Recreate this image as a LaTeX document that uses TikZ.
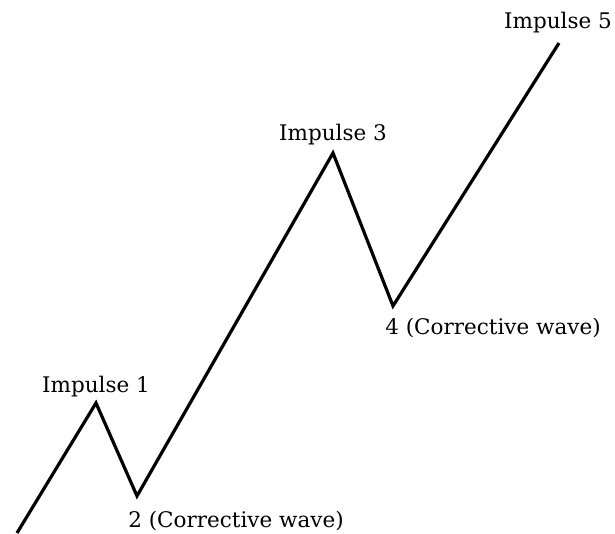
\documentclass[tikz,border=0pt]{standalone}
\usepackage{fontspec}
\setmainfont{DejaVu Serif}
\begin{document}
\begin{tikzpicture}[x=1pt,y=1pt,
  wave/.style={line width=3.2pt, line join=miter, black},
  lbl/.style={anchor=base, inner sep=0pt, font=\fontsize{21.5}{25}\selectfont}]
\useasboundingbox (0,0) rectangle (615,533);
\begin{scope}
\clip (0,0) rectangle (615,533);
\coordinate (p0) at (17,0);
\coordinate (p1) at (96,130);
\coordinate (p2) at (137,37);
\coordinate (p3) at (333,380);
\coordinate (p4) at (393,227);
\coordinate (p5) at (559,490);
\draw[wave] (p0) -- (p1) -- (p2) -- (p3) -- (p4) -- (p5);
\end{scope}
\node[lbl] (l1) at (96,141) {Impulse 1};
\node[lbl] (l2) at (236,6) {2 (Corrective wave)};
\node[lbl] (l3) at (333,392) {Impulse 3};
\node[lbl] (l4) at (493,198) {4 (Corrective wave)};
\node[lbl] (l5) at (558,504) {Impulse 5};
\end{tikzpicture}
\end{document}
